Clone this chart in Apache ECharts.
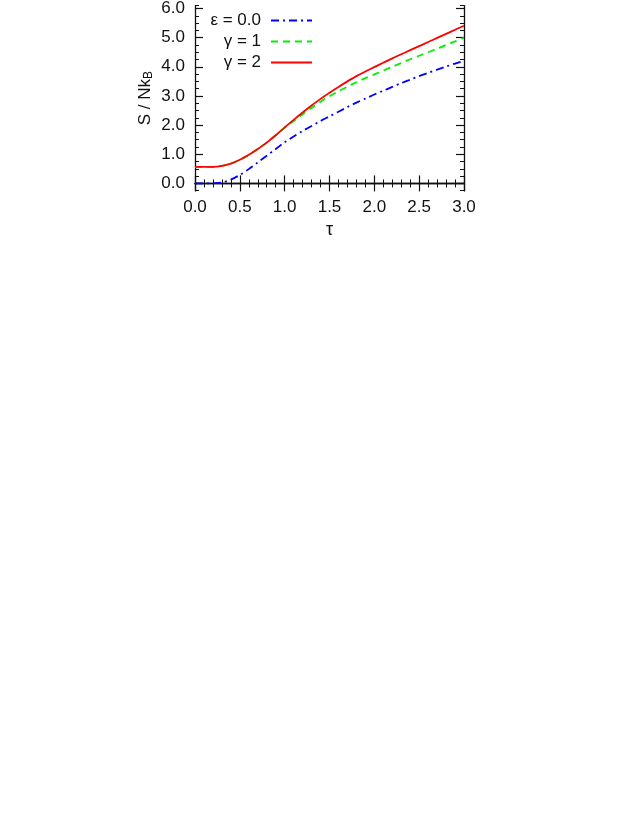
<!DOCTYPE html>
<html>
<head>
<meta charset="utf-8">
<script src="https://cdn.jsdelivr.net/npm/echarts@6/dist/echarts.min.js"></script>
<style>
  html, body { margin: 0; padding: 0; background: #fff; }
  #chart { width: 638px; height: 825px; }
</style>
</head>
<body>
<div id="chart"></div>
<script>
	// values
	var tau = [0.0, 0.1, 0.2, 0.3, 0.4, 0.5, 0.6, 0.7, 0.8, 0.9, 1.0,
		1.1, 1.2, 1.3, 1.4, 1.5, 1.6, 1.7, 1.8, 1.9, 2.0,
		2.1, 2.2, 2.3, 2.4, 2.5, 2.6, 2.7, 2.8, 2.9, 3.0];
	var eps0 = [0.0, 0.0, 0.005, 0.03, 0.13, 0.29, 0.49, 0.72, 0.95, 1.18, 1.41,
		1.61, 1.80, 1.97, 2.14, 2.30, 2.46, 2.62, 2.77, 2.91, 3.05,
		3.18, 3.31, 3.44, 3.56, 3.68, 3.79, 3.90, 4.01, 4.11, 4.21];
	var gamma1 = [0.57, 0.57, 0.57, 0.60, 0.68, 0.81, 0.98, 1.18, 1.40, 1.65, 1.91,
		2.14, 2.37, 2.59, 2.80, 2.99, 3.16, 3.32, 3.47, 3.61, 3.74,
		3.87, 4.00, 4.13, 4.26, 4.38, 4.50, 4.62, 4.75, 4.87, 4.99];
	var gamma2 = [0.57, 0.57, 0.57, 0.60, 0.68, 0.81, 0.98, 1.18, 1.40, 1.65, 1.92,
		2.18, 2.43, 2.67, 2.90, 3.11, 3.31, 3.50, 3.68, 3.84, 3.99,
		4.14, 4.29, 4.43, 4.57, 4.71, 4.85, 4.99, 5.13, 5.27, 5.41];
	var yTicks = [0, 1, 2, 3, 4, 5, 6];
	var names = ['ε = 0.0', 'γ = 1', 'γ = 2'];

	function pairs(ys) {
		return tau.map(function(t, i) { return [t, ys[i]]; });
	}

	var font = '"Liberation Sans", Arial, sans-serif';
	var ink = '#111';

	var yMin = -0.25, yMax = 6.1;

	function yAxisMajor(pos, labels) {
		return {
			type: 'value', position: pos, min: yMin, max: yMax,
			axisLine: { show: true, lineStyle: { color: ink, width: 1.3 } },
			axisTick: { show: true, inside: true, length: 8, customValues: yTicks,
				lineStyle: { color: ink, width: 1.2 } },
			axisLabel: { show: labels, customValues: yTicks, margin: 10,
				formatter: function(v) { return v.toFixed(1); },
				color: ink, fontSize: 17, fontFamily: font },
			splitLine: { show: false }
		};
	}
	function yAxisMinor(pos) {
		return {
			type: 'value', position: pos, min: yMin, max: yMax, interval: 0.25,
			axisLine: { show: false },
			axisTick: { show: true, inside: true, length: 4, lineStyle: { color: ink, width: 1 } },
			axisLabel: { show: false },
			splitLine: { show: false }
		};
	}
	function xAxis(pos, labels) {
		return {
			type: 'value', position: pos, min: 0, max: 3, interval: 0.5,
			axisLine: { show: true, lineStyle: { color: ink, width: 1.3 } },
			axisTick: { show: true, inside: true, length: 8, lineStyle: { color: ink, width: 1.2 } },
			minorTick: { show: true, splitNumber: 5, length: 4, lineStyle: { color: ink, width: 1 } },
			axisLabel: { show: labels, margin: 8,
				formatter: function(v) { return v.toFixed(1); },
				color: ink, fontSize: 17, fontFamily: font },
			splitLine: { show: false }
		};
	}

	function legendRow(name, top) {
		return {
			data: [name], orient: 'horizontal', align: 'right',
			right: 325, top: top, padding: 0,
			itemWidth: 41, itemHeight: 14,
			selectedMode: false,
			itemStyle: { opacity: 0 },
			textStyle: { color: ink, fontSize: 17, fontFamily: font, padding: [0, 5, 0, 0] }
		};
	}

	var chart = echarts.init(document.getElementById('chart'));
	var xa0 = xAxis('bottom', true);
	xa0.name = 'τ';
	xa0.nameLocation = 'middle';
	xa0.nameGap = 30;
	xa0.nameTextStyle = { color: ink, fontSize: 18, fontFamily: font };

	var ya0 = yAxisMajor('left', true);
	ya0.name = '{n|S / Nk}{s|B}';
	ya0.nameLocation = 'middle';
	ya0.nameGap = 40;
	ya0.nameRotate = 90;
	ya0.nameTextStyle = {
		rich: {
			n: { color: ink, fontSize: 17, fontFamily: font },
			s: { color: ink, fontSize: 12, fontFamily: font, verticalAlign: 'bottom', padding: [8, 0, 0, 0] }
		}
	};

	chart.setOption({
		animation: false,
		backgroundColor: '#fff',
		grid: { left: 195, right: 174, top: 1.5, bottom: 634.3, containLabel: false },
		legend: [legendRow(names[0], 12), legendRow(names[1], 33), legendRow(names[2], 54)],
		xAxis: [xa0, xAxis('top', false)],
		yAxis: [ya0, yAxisMinor('left'), yAxisMajor('right', false), yAxisMinor('right')],
		series: [{
			name: names[0], type: 'line', data: pairs(eps0), symbol: 'none', smooth: 0.3,
			xAxisIndex: 0, yAxisIndex: 0,
			lineStyle: { color: '#0000ff', width: 1.8, type: [8, 4, 2, 4] },
			itemStyle: { color: '#0000ff' }
		}, {
			name: names[1], type: 'line', data: pairs(gamma1), symbol: 'none', smooth: 0.3,
			xAxisIndex: 0, yAxisIndex: 0,
			lineStyle: { color: '#00ee00', width: 1.8, type: [7, 5] },
			itemStyle: { color: '#00ee00' }
		}, {
			name: names[2], type: 'line', data: pairs(gamma2), symbol: 'none', smooth: 0.3,
			xAxisIndex: 0, yAxisIndex: 0,
			lineStyle: { color: '#ff0000', width: 1.8 },
			itemStyle: { color: '#ff0000' }
		}]
	});
</script>
</body>
</html>
